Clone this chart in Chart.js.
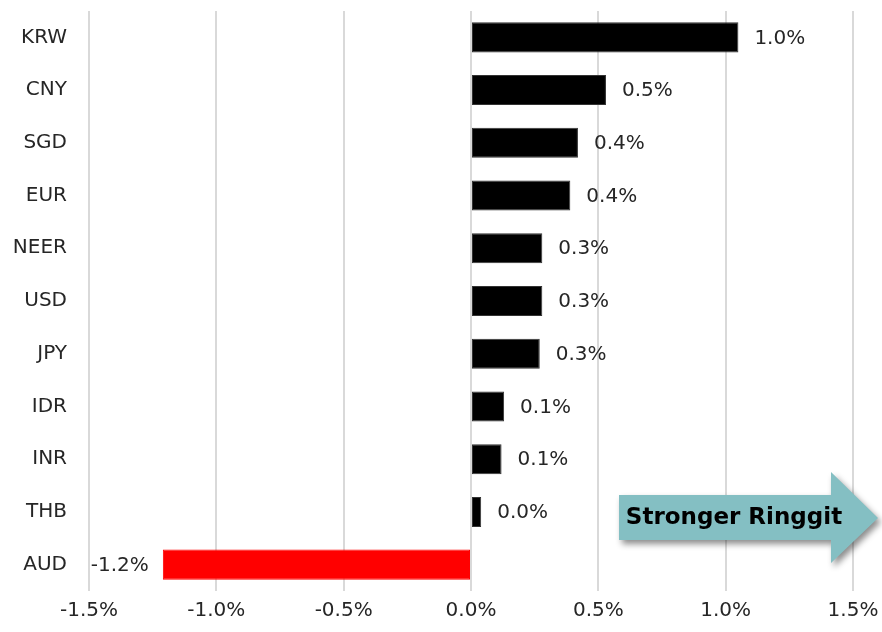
<!DOCTYPE html>
<html>
<head>
<meta charset="utf-8">
<script src="https://cdn.jsdelivr.net/npm/chart.js@4"></script>
<style>
  html, body { margin: 0; padding: 0; background: #fff; }
  #wrap { width: 882px; height: 632px; position: relative; }
</style>
</head>
<body>
<div id="wrap"><canvas id="grafico"></canvas></div>
<script>
const moedas = ['KRW', 'CNY', 'SGD', 'EUR', 'NEER', 'USD', 'JPY', 'IDR', 'INR', 'THB', 'AUD'];
const variacao = [1.05, 0.53, 0.42, 0.39, 0.28, 0.28, 0.27, 0.13, 0.12, 0.04, -1.21];
const rotulos = ['1.0%', '0.5%', '0.4%', '0.4%', '0.3%', '0.3%', '0.3%', '0.1%', '0.1%', '0.0%', '-1.2%'];
const ticksX = [-1.5, -1.0, -0.5, 0.0, 0.5, 1.0, 1.5];

const fonte = '"DejaVu Sans", sans-serif';

// rotulos de dados ao lado de cada barra
const rotulosPlugin = {
  id: 'rotulos',
  afterDatasetsDraw(chart) {
    const ctx = chart.ctx;
    const meta = chart.getDatasetMeta(0);
    ctx.save();
    ctx.font = '20px ' + fonte;
    ctx.fillStyle = '#262626';
    ctx.textBaseline = 'middle';
    meta.data.forEach((bar, i) => {
      if (variacao[i] >= 0) {
        ctx.textAlign = 'left';
        ctx.fillText(rotulos[i], bar.x + 16, bar.y + 1);
      } else {
        ctx.textAlign = 'right';
        ctx.fillText(rotulos[i], bar.x - 14, bar.y + 1);
      }
    });
    ctx.restore();
  }
};

// seta "Stronger Ringgit"
const setaPlugin = {
  id: 'seta',
  afterDraw(chart) {
    const ctx = chart.ctx;
    ctx.save();
    ctx.shadowColor = 'rgba(0,0,0,0.45)';
    ctx.shadowBlur = 6;
    ctx.shadowOffsetX = 3;
    ctx.shadowOffsetY = 4;
    ctx.fillStyle = '#84bfc3';
    ctx.beginPath();
    ctx.moveTo(619, 495);
    ctx.lineTo(831, 495);
    ctx.lineTo(831, 472);
    ctx.lineTo(878, 518);
    ctx.lineTo(831, 563);
    ctx.lineTo(831, 540);
    ctx.lineTo(619, 540);
    ctx.closePath();
    ctx.fill();
    ctx.restore();
    ctx.save();
    ctx.font = 'bold 23px ' + fonte;
    ctx.fillStyle = '#000';
    ctx.textAlign = 'center';
    ctx.textBaseline = 'middle';
    ctx.fillText('Stronger Ringgit', 734, 518);
    ctx.restore();
  }
};

const ctx = document.getElementById('grafico').getContext('2d');
const chart = new Chart(ctx, {
  type: 'bar',
  data: {
    labels: moedas,
    datasets: [{
      data: variacao,
      backgroundColor: variacao.map(v => v < 0 ? '#ff0000' : '#000000'),
      borderColor: variacao.map(v => v < 0 ? '#ff0000' : '#333333'),
      borderWidth: 1,
      borderSkipped: false,
      barPercentage: 0.57,
      categoryPercentage: 1.0
    }]
  },
  options: {
    indexAxis: 'y',
    responsive: true,
    maintainAspectRatio: false,
    animation: false,
    layout: { padding: { top: 11, right: 29, bottom: 0, left: 0 } },
    plugins: {
      legend: { display: false },
      tooltip: { enabled: false }
    },
    scales: {
      x: {
        min: -1.5,
        max: 1.5,
        afterBuildTicks(axis) { axis.ticks = ticksX.map(v => ({ value: v })); },
        afterFit(axis) { axis.height = 41; axis.paddingLeft = 0; axis.paddingRight = 0; },
        grid: { color: '#d9d9d9', lineWidth: 2, drawTicks: false },
        border: { display: false },
        ticks: {
          padding: 8,
          color: '#262626',
          font: { family: fonte, size: 20 },
          callback: v => v.toFixed(1) + '%'
        }
      },
      y: {
        afterFit(axis) { axis.width = 89; axis.paddingTop = 0; axis.paddingBottom = 0; },
        grid: { display: false, drawTicks: false },
        border: { display: false },
        ticks: {
          padding: 22,
          color: '#262626',
          font: { family: fonte, size: 20 }
        }
      }
    }
  },
  plugins: [rotulosPlugin, setaPlugin]
});
</script>
</body>
</html>
